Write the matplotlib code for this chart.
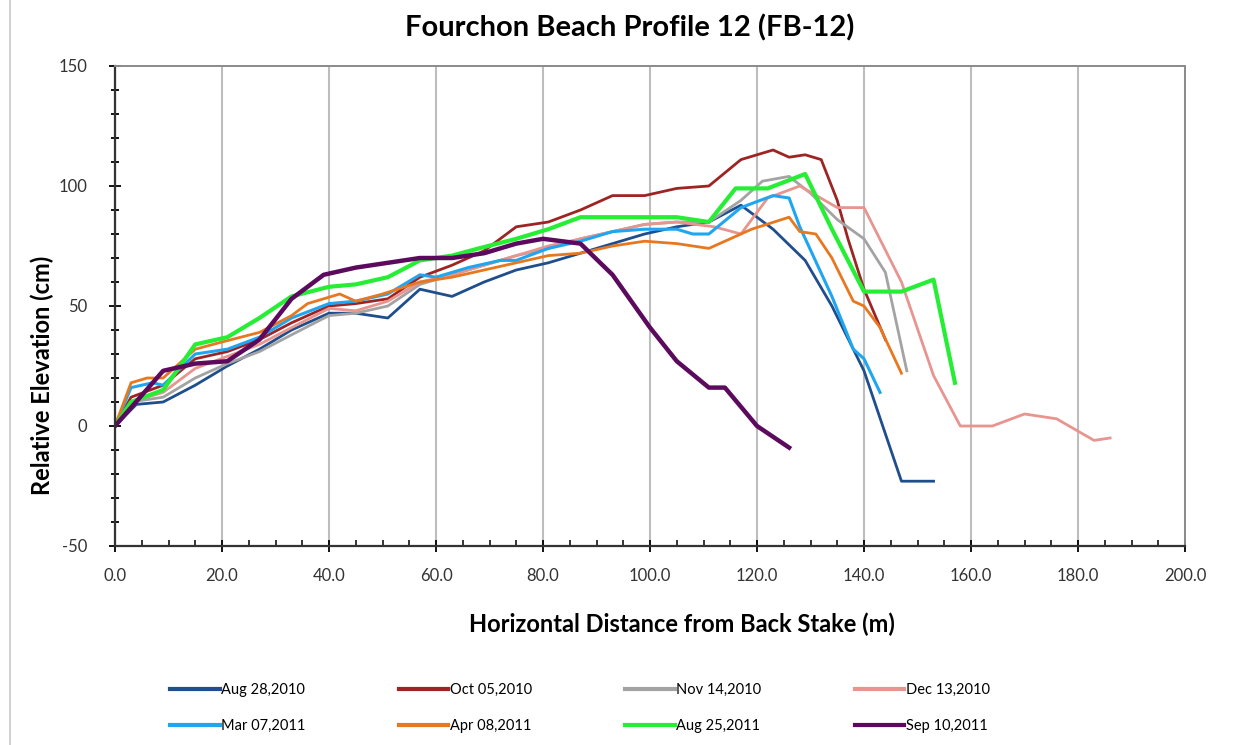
import matplotlib
matplotlib.use("Agg")
import matplotlib.pyplot as plt
from matplotlib.lines import Line2D
from matplotlib.ticker import MultipleLocator, FormatStrFormatter

plt.rcParams['font.family'] = ['Lato', 'DejaVu Sans']
plt.rcParams['axes.unicode_minus'] = False

# survey data
aug28_x = [0, 4, 9, 15, 21, 27, 33, 40, 45, 51, 57, 63, 69, 75, 81, 87, 93, 99, 105, 111, 117, 123, 129, 134, 140, 147, 153]
aug28_y = [0, 9, 10, 17, 25, 32, 40, 47, 47, 45, 57, 54, 60, 65, 68, 72, 76, 80, 83, 85, 92, 82, 69, 50, 23, -23, -23]

oct05_x = [0, 3, 9, 15, 21, 27, 33, 40, 45, 51, 57, 63, 69, 75, 81, 87, 93, 99, 105, 111, 117, 123, 126, 129, 132, 135, 137, 140, 144]
oct05_y = [0, 12, 17, 28, 31, 36, 43, 50, 51, 53, 62, 67, 73, 83, 85, 90, 96, 96, 99, 100, 111, 115, 112, 113, 111, 94, 78, 57, 36]

nov14_x = [0, 3, 9, 15, 21, 27, 33, 40, 45, 51, 57, 63, 69, 75, 81, 87, 93, 99, 105, 111, 117, 121, 126, 130, 135, 140, 144, 148]
nov14_y = [0, 10, 12, 20, 26, 31, 38, 46, 47, 50, 59, 63, 67, 71, 74, 78, 81, 84, 85, 85, 94, 102, 104, 97, 86, 78, 64, 23]

dec13_x = [0, 3, 9, 15, 21, 27, 33, 40, 45, 51, 57, 63, 69, 75, 81, 87, 93, 99, 105, 112, 117, 122, 128, 135, 140, 147, 153, 158, 164, 170, 176, 183, 186]
dec13_y = [0, 10, 14, 24, 29, 34, 41, 49, 48, 52, 60, 63, 67, 71, 75, 78, 81, 84, 85, 83, 80, 95, 100, 91, 91, 60, 21, 0, 0, 5, 3, -6, -5]

mar07_x = [0, 3, 7, 9, 15, 21, 27, 33, 40, 45, 51, 57, 60, 66, 72, 75, 81, 87, 93, 99, 105, 108, 111, 117, 123, 126, 128, 134, 138, 140, 143]
mar07_y = [0, 16, 18, 17, 30, 32, 37, 45, 51, 52, 55, 63, 62, 66, 69, 69, 74, 77, 81, 82, 82, 80, 80, 91, 96, 95, 83, 54, 32, 28, 14]

apr08_x = [0, 3, 6, 9, 15, 20, 27, 33, 36, 42, 45, 50, 57, 63, 69, 75, 81, 87, 93, 99, 105, 111, 119, 126, 128, 131, 134, 138, 140, 143, 147]
apr08_y = [0, 18, 20, 20, 32, 35, 39, 46, 51, 55, 52, 55, 60, 62, 65, 68, 71, 72, 75, 77, 76, 74, 82, 87, 81, 80, 70, 52, 50, 41, 22]

aug25_x = [0, 3, 9, 15, 21, 27, 33, 40, 45, 51, 57, 63, 68, 75, 81, 87, 99, 105, 111, 116, 122, 129, 134, 140, 147, 153, 157]
aug25_y = [0, 10, 15, 34, 37, 45, 54, 58, 59, 62, 69, 71, 74, 78, 82, 87, 87, 87, 85, 99, 99, 105, 82, 56, 56, 61, 18]

sep10_x = [0, 9, 15, 21, 27, 33, 39, 45, 51, 57, 63, 69, 75, 80, 87, 93, 100, 105, 111, 114, 120, 126]
sep10_y = [0, 23, 26, 27, 36, 53, 63, 66, 68, 70, 70, 72, 76, 78, 76, 63, 41, 27, 16, 16, 0, -9]

labels = ["Aug 28,2010", "Oct 05,2010", "Nov 14,2010", "Dec 13,2010",
          "Mar 07,2011", "Apr 08,2011", "Aug 25,2011", "Sep 10,2011"]
colors = ["#1F4E8C", "#9E2424", "#A3A3A3", "#E8948F",
          "#1FA6F0", "#E8781F", "#25EE35", "#5C0A5E"]
widths = [2.0, 2.0, 2.0, 2.0, 2.2, 2.0, 3.0, 3.2]
series = [(aug28_x, aug28_y), (oct05_x, oct05_y), (nov14_x, nov14_y), (dec13_x, dec13_y),
          (mar07_x, mar07_y), (apr08_x, apr08_y), (aug25_x, aug25_y), (sep10_x, sep10_y)]

fig = plt.figure(figsize=(12.48, 7.45), dpi=100)
ax = fig.add_axes([115 / 1248, 1 - 546 / 745, 1070 / 1248, 480 / 745])

for (xs, ys), c, lw in zip(series, colors, widths):
    ax.plot(xs, ys, color=c, lw=lw, solid_joinstyle='round')

ax.set_xlim(0, 200)
ax.set_ylim(-50, 150)
ax.xaxis.set_major_locator(MultipleLocator(20))
ax.xaxis.set_minor_locator(MultipleLocator(5))
ax.xaxis.set_major_formatter(FormatStrFormatter('%.1f'))
ax.yaxis.set_major_locator(MultipleLocator(50))
ax.yaxis.set_minor_locator(MultipleLocator(10))
ax.grid(True, axis='x', which='major', color='#BDBDBD', lw=1.5)
ax.tick_params(axis='y', which='both', direction='inout', length=6, width=1.3, labelsize=12,
               pad=16, labelcolor='#333333')
ax.tick_params(axis='y', which='major', length=8)
ax.tick_params(axis='x', which='major', direction='inout', length=8, width=1.3, labelsize=12,
               pad=12, labelcolor='#333333')
ax.tick_params(axis='x', which='minor', direction='in', length=4, width=1.1)
for side in ['left', 'bottom']:
    ax.spines[side].set_color('#333333')
    ax.spines[side].set_linewidth(1.6)
for side in ['top', 'right']:
    ax.spines[side].set_color('#8A8A8A')
    ax.spines[side].set_linewidth(1.4)

ax.set_xlabel('Horizontal Distance from Back Stake (m)', fontsize=17, fontweight='bold')
ax.xaxis.set_label_coords((682 - 115) / 1070, -(613 - 546) / 480)
ax.set_ylabel('Relative Elevation (cm)', fontsize=17, fontweight='bold')
ax.yaxis.set_label_coords((54 - 115) / 1070, (546 - 375) / 480)
fig.text(630 / 1248, 1 - 28 / 745, 'Fourchon Beach Profile 12 (FB-12)', ha='center', va='center',
         fontsize=21, fontweight='bold')

# legend is filled column by column, so reorder to get the rows right
order = [0, 4, 1, 5, 2, 6, 3, 7]
handles = [Line2D([], [], color=colors[i], lw=3) for i in order]
fig.legend(handles, [labels[i] for i in order], loc='center',
           bbox_to_anchor=(580 / 1248, 1 - 708 / 745), ncol=4,
           frameon=False, fontsize=10.5, handlelength=3.4, handletextpad=0.1,
           columnspacing=6.4, labelspacing=1.5)

# page edge line at the far left of the scanned figure
fig.add_artist(Line2D([10 / 1248, 10 / 1248], [0, 1], color='#C8C8C8', lw=1.2))

fig.savefig('out.png', dpi=100)
